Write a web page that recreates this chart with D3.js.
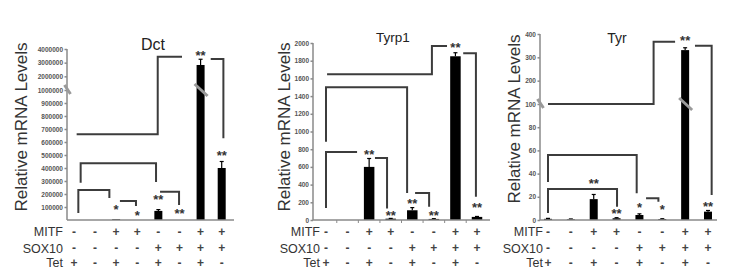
<!DOCTYPE html>
<html lang="en">
<head>
<meta charset="UTF-8">
<title>Relative mRNA Levels</title>
<script src="https://d3js.org/d3.v7.min.js"></script>
<style>
  body { margin: 0; background: #fff; -webkit-font-smoothing: antialiased; }
  svg { font-family: 'Liberation Sans', Arial, sans-serif; }
  .axis path, .axis line { stroke: #8a8a8a; stroke-width: 1.5px; }
  .axis text { font-size: 6.5px; font-weight: bold; fill: #555; }
  .xline { stroke: #8a8a8a; stroke-width: 1.5px; }
  .bracket { fill: none; stroke: #3c3c3c; stroke-width: 2px; }
  .bar { fill: #000; }
  .err { stroke: #000; stroke-width: 1.2px; }
  .star { font-size: 13px; font-weight: bold; fill: #333; text-anchor: middle; }
  .brk { stroke: #9a9a9a; stroke-width: 3px; }
  .sign { font-size: 12px; font-weight: bold; fill: #444; text-anchor: middle; }
  .rowname { font-size: 12.5px; fill: #333; text-anchor: end; }
  .ylabel { font-size: 17px; fill: #333; text-anchor: middle; }
</style>
</head>
<body>
<script>
// conditions under each bar
const rowNames = ["MITF", "SOX10", "Tet"];
const mitf  = ["-", "-", "+", "+", "-", "-", "+", "+"];
const sox10 = ["-", "-", "-", "-", "+", "+", "+", "+"];
const tet   = ["+", "-", "+", "-", "+", "-", "+", "-"];

// Dct
const dctValues = [0, 0, 6000, 0, 70000, 0, 2830000, 400000];
const dctErrors = [0, 0, 0, 0, 10000, 0, 420000, 50000];
const dctTicks = [100000, 200000, 300000, 400000, 500000, 600000, 700000, 800000, 900000, 1000000, 2000000, 3000000, 4000000];
const dctStars = [
  { i: 2, t: "*", v: 100000 }, { i: 3, t: "*", v: 52000 }, { i: 4, t: "**", v: 177000 },
  { i: 5, t: "**", v: 66000 }, { i: 6, t: "**", v: 3690000 }, { i: 7, t: "**", v: 513000 }
];
const dctBrackets = [
  [[0.21, 54000], [0.21, 231000], [1.68, 231000], [1.68, 169000]],
  [[2.18, 146000], [2.94, 146000], [2.94, 108000]],
  [[0.32, 287000], [0.32, 436000], [3.89, 436000], [3.89, 292000]],
  [[4.08, 218000], [4.98, 218000], [4.98, 115000]],
  [[0.13, 659000], [3.97, 659000], [3.97, 3440000], [5.12, 3440000]],
  [[6.48, 3270000], [7.08, 3270000], [7.08, 628000]]
];

// Tyrp1
const tyrp1Values = [0, 0, 600, 15, 110, 12, 1850, 35];
const tyrp1Errors = [0, 0, 95, 3, 30, 3, 40, 5];
const tyrp1Ticks = [0, 200, 400, 600, 800, 1000, 1200, 1400, 1600, 1800, 2000];
const tyrp1Stars = [
  { i: 2, t: "**", v: 768 }, { i: 3, t: "**", v: 78 }, { i: 4, t: "**", v: 215 },
  { i: 5, t: "**", v: 78 }, { i: 6, t: "**", v: 1978 }, { i: 7, t: "**", v: 170 }
];
const tyrp1Brackets = [
  [[0, 136], [0, 768], [1.44, 768]],
  [[2.27, 700], [2.83, 700], [2.83, 130]],
  [[0, 885], [0, 1500], [3.76, 1500], [3.76, 305]],
  [[4.13, 305], [4.78, 305], [4.78, 150]],
  [[0.05, 1646], [4.91, 1646], [4.91, 1966], [5.61, 1966]],
  [[6.36, 1884], [6.95, 1884], [6.95, 263]]
];

// Tyr
const tyrValues = [1, 0.6, 18, 1.5, 4.3, 0.8, 331, 7.2];
const tyrErrors = [0.4, 0.3, 4, 0.5, 1, 0.3, 10, 1];
const tyrTicks = [0, 20, 40, 60, 80, 100, 200, 300, 400];
const tyrStars = [
  { i: 2, t: "**", v: 33.9 }, { i: 3, t: "**", v: 7.5 }, { i: 4, t: "*", v: 12.9 },
  { i: 5, t: "*", v: 11 }, { i: 6, t: "**", v: 381 }, { i: 7, t: "**", v: 13.8 }
];
const tyrBrackets = [
  [[0, 6], [0, 26.7], [3.02, 26.7], [3.02, 11.5]],
  [[0, 32.8], [0, 56], [3.88, 56], [3.88, 23]],
  [[4.29, 18.7], [4.83, 18.7], [4.83, 15.8]],
  [[0, 100], [4.62, 100], [4.62, 367], [5.56, 367]],
  [[6.43, 350], [7.16, 350], [7.16, 21.5]]
];

const panels = [
  { gene: "Dct", values: dctValues, errors: dctErrors, ticks: dctTicks, stars: dctStars, brackets: dctBrackets,
    breakAt: 1000000, yDomain: [0, 1000000, 4000000], yRange: [220, 90, 49],
    axisX: 67, xEnd: 234, cat0: 73.9, cat7: 221.7, barW: 8,
    titleX: 153, titleY: 50, titleSize: 16, labelX: 21, labelY: 127, rowX: 63, minor: false },
  { gene: "Tyrp1", values: tyrp1Values, errors: tyrp1Errors, ticks: tyrp1Ticks, stars: tyrp1Stars, brackets: tyrp1Brackets,
    breakAt: null, yDomain: [0, 2000], yRange: [220, 43],
    axisX: 313, xEnd: 490, cat0: 326, cat7: 477, barW: 10.5,
    titleX: 393, titleY: 42, titleSize: 13.5, labelX: 284, labelY: 127, rowX: 320, minor: true },
  { gene: "Tyr", values: tyrValues, errors: tyrErrors, ticks: tyrTicks, stars: tyrStars, brackets: tyrBrackets,
    breakAt: 100, yDomain: [0, 100, 400], yRange: [220, 104, 34],
    axisX: 540, xEnd: 717, cat0: 548, cat7: 708, barW: 8,
    titleX: 617, titleY: 43, titleSize: 14, labelX: 514, labelY: 119, rowX: 543, minor: false }
];

const rowY = [231.5, 248, 262.5];
const rowSigns = [mitf, sox10, tet];

const svg = d3.select("body").append("svg")
  .attr("width", 745)
  .attr("height", 277);

panels.forEach(p => {
  const g = svg.append("g");
  const x = d3.scaleLinear().domain([0, 7]).range([p.cat0, p.cat7]);
  const y = d3.scaleLinear().domain(p.yDomain).range(p.yRange);

  // brackets (behind)
  const line = d3.line().x(d => x(d[0])).y(d => y(d[1]));
  g.selectAll(".bracket")
    .data(p.brackets)
    .enter().append("path")
    .attr("class", "bracket")
    .attr("d", line);

  // bars
  g.selectAll(".bar")
    .data(p.values)
    .enter().append("rect")
    .attr("class", "bar")
    .attr("x", (d, i) => x(i) - p.barW / 2)
    .attr("y", d => y(d))
    .attr("width", p.barW)
    .attr("height", d => y(0) - y(d));

  // error bars
  p.values.forEach((v, i) => {
    const e = p.errors[i];
    if (!e) return;
    g.append("line").attr("class", "err")
      .attr("x1", x(i)).attr("x2", x(i))
      .attr("y1", y(v)).attr("y2", y(v + e));
    g.append("line").attr("class", "err")
      .attr("x1", x(i) - 2).attr("x2", x(i) + 2)
      .attr("y1", y(v + e)).attr("y2", y(v + e));
  });

  // y axis
  g.append("g")
    .attr("class", "axis")
    .attr("transform", `translate(${p.axisX},0)`)
    .call(d3.axisLeft(y).tickValues(p.ticks).tickFormat(d3.format("d")).tickSize(2.5).tickSizeOuter(0).tickPadding(1.5));
  g.select(".axis .domain").attr("d", `M0,${y(0)}V${y(p.yDomain[p.yDomain.length - 1])}`);

  // x axis line
  g.append("line").attr("class", "xline")
    .attr("x1", p.axisX).attr("x2", p.xEnd)
    .attr("y1", y(0)).attr("y2", y(0));
  if (p.minor) {
    g.selectAll(".minor")
      .data(d3.range(0.5, 7, 1))
      .enter().append("line")
      .attr("class", "xline")
      .style("stroke-width", "1px")
      .attr("x1", d => x(d)).attr("x2", d => x(d))
      .attr("y1", y(0)).attr("y2", y(0) + 3);
  }

  // axis break marks
  if (p.breakAt !== null) {
    const by = y(p.breakAt);
    const tall = d3.maxIndex(p.values);
    g.append("line").attr("class", "brk")
      .attr("x1", p.axisX - 2.5).attr("y1", by - 5)
      .attr("x2", p.axisX + 3.5).attr("y2", by + 4);
    g.append("line").attr("class", "brk")
      .attr("x1", x(tall) - 6).attr("y1", by - 6)
      .attr("x2", x(tall) + 7).attr("y2", by + 6);
  }

  // stars
  g.selectAll(".star")
    .data(p.stars)
    .enter().append("text")
    .attr("class", "star")
    .attr("x", d => x(d.i))
    .attr("y", d => y(d.v) + 7)
    .text(d => d.t);

  // title
  g.append("text")
    .attr("x", p.titleX).attr("y", p.titleY)
    .attr("text-anchor", "middle")
    .style("font-size", p.titleSize + "px")
    .style("fill", "#222")
    .text(p.gene);

  // y label
  g.append("text")
    .attr("class", "ylabel")
    .attr("transform", `translate(${p.labelX + 6},${p.labelY}) rotate(-90)`)
    .text("Relative mRNA Levels");

  // condition rows
  rowNames.forEach((name, r) => {
    g.append("text").attr("class", "rowname")
      .attr("x", p.rowX).attr("y", rowY[r] + 4.5)
      .text(name);
    g.selectAll(".sign" + r)
      .data(rowSigns[r])
      .enter().append("text")
      .attr("class", "sign")
      .attr("x", (d, i) => x(i))
      .attr("y", rowY[r] + 4)
      .text(d => d);
  });
});
</script>
</body>
</html>
